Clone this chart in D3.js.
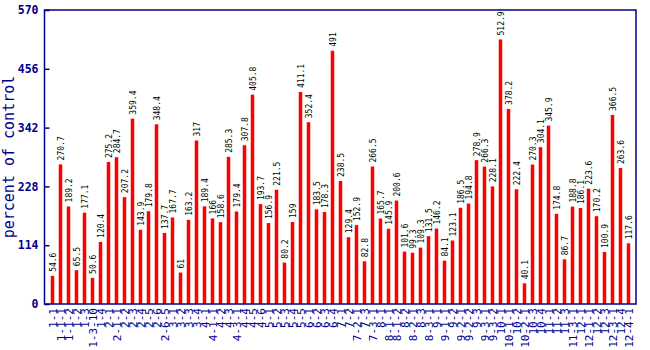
<!DOCTYPE html>
<html><head><meta charset="utf-8">
<script src="https://cdn.jsdelivr.net/npm/d3@7"></script>
<style>body{margin:0;background:#fff}svg{display:block}</style>
</head><body>
<svg id="c" width="650" height="350"></svg>
<script>
const categories = ["1-1","1-1-1","1-1-2","1-2","1-3","1-3-10","1-4","2-1","2-1-1","2-2","2-3","2-4","2-5","2-6","2-6-5","3-1","3-2","3-3","3-4","4-1","4-1-1","4-2","4-3","4-3-1","4-4","4-5","4-6","5-1","5-2","5-3","5-4","5-5","6-1","6-2","6-3","6-4","7-1","7-2","7-2-1","7-3","7-3-1","8-1","8-1-1","8-1-2","8-2","8-2-1","8-3","8-3-1","9-1","9-1-1","9-2","9-2-1","9-2-2","9-3","9-3-1","9-3-2","10-1","10-1-1","10-2","10-2-1","10-3","10-4","11-1","11-2","11-3","11-3-1","12-1","12-1-1","12-2","12-3","12-3-1","12-4","12-4-1"];
const values = [54.6,270.7,189.2,65.5,177.1,50.6,120.4,275.2,284.7,207.2,359.4,143.9,179.8,348.4,137.7,167.7,61,163.2,317,189.4,166,158.6,285.3,179.4,307.8,405.8,193.7,156.9,221.5,80.2,159,411.1,352.4,183.5,178.3,491,238.5,129.4,152.9,82.8,266.5,165.7,145.9,200.6,101.6,99.3,109.3,131.5,146.2,84.1,123.1,186.5,194.8,278.9,266.3,228.1,512.9,378.2,222.4,40.1,270.3,304.1,345.9,174.8,86.7,188.8,186.1,223.6,170.2,100.9,366.5,263.6,117.6];
const yTicks = [0,114,228,342,456,570];
const yTitle = "percent of control";

const svg = d3.select("#c");
const L = 44.5, R = 636, T = 10, B = 304;
const navy = "#00008B";
const x = d3.scalePoint().domain(categories).range([52.5, 628.5]);
const y = d3.scaleLinear().domain([0, 570]).range([B, T]);
const font = "'DejaVu Sans Mono', 'Liberation Mono', monospace";

// bars
svg.append("g").selectAll("rect").data(values).join("rect")
  .attr("x", (d,i) => x(categories[i]) - 1.75)
  .attr("width", 3.5)
  .attr("y", d => y(d))
  .attr("height", d => B - y(d))
  .attr("fill", "#FF0000");

// value labels
svg.append("g").selectAll("text").data(values).join("text")
  .attr("transform", (d,i) => `translate(${x(categories[i]) + 3},${y(d) - 4}) rotate(-90)`)
  .attr("font-family", font).attr("font-size", 8).attr("fill", "#000")
  .text(d => d);

// frame
svg.append("rect").attr("x", L).attr("y", T).attr("width", R - L).attr("height", B - T)
  .attr("fill", "none").attr("stroke", navy).attr("stroke-width", 1.5);

// y axis (ticks point inward)
const ya = svg.append("g").attr("transform", `translate(${L},0)`)
  .call(d3.axisLeft(y).tickValues(yTicks).tickSize(-5).tickPadding(6));
ya.select(".domain").remove();
ya.selectAll("line").attr("stroke", navy).attr("stroke-width", 1.5);
ya.selectAll("text").attr("font-family", font).attr("font-size", 11.5).attr("font-weight", "bold").attr("fill", navy);

// x axis
const xa = svg.append("g").attr("transform", `translate(0,${B})`)
  .call(d3.axisBottom(x).tickSize(0).tickPadding(0));
xa.select(".domain").remove();
xa.selectAll("text")
  .attr("font-family", font).attr("font-size", 11).attr("fill", navy)
  .attr("text-anchor", "end")
  .attr("dy", null).attr("y", 0)
  .attr("transform", "translate(4,4) rotate(-90)");

// y title
svg.append("text").attr("transform", `translate(14,${(T+B)/2}) rotate(-90)`)
  .attr("text-anchor", "middle").attr("font-family", font).attr("font-size", 15)
  .attr("fill", navy).text(yTitle);
</script>
</body></html>
